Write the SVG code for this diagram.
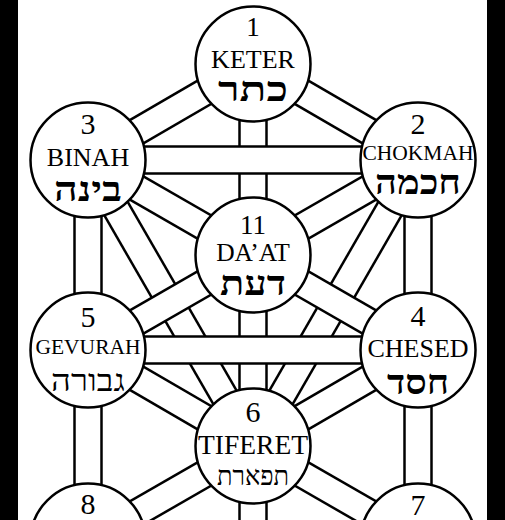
<svg xmlns="http://www.w3.org/2000/svg" width="505" height="520" viewBox="0 0 505 520">
<style>
.bo{stroke:#000;stroke-width:29.5;fill:none}
.bi{stroke:#fff;stroke-width:24.5;fill:none}
.c{fill:#fff;stroke:#000;stroke-width:2.5}
text{font-family:"Liberation Serif","DejaVu Serif",serif;fill:#000;text-anchor:middle}
.num{font-size:30px}
.lat{font-size:26px}
.heb{font-family:"Liberation Serif","DejaVu Sans",serif;font-size:34px;font-weight:bold}
</style>
<rect x="0" y="0" width="505" height="520" fill="#fff"/>
<g id="connectors">
<path class="bo" d="M253,64V446"/><path class="bi" d="M253,64V446"/>
<path class="bo" d="M253,446V640"/><path class="bi" d="M253,446V640"/>
<path class="bo" d="M88,160L253,446"/><path class="bi" d="M88,160L253,446"/>
<path class="bo" d="M418,160L253,446"/><path class="bi" d="M418,160L253,446"/>
<path class="bo" d="M418,160L88,350"/><path class="bi" d="M418,160L88,350"/>
<path class="bo" d="M88,160L418,350"/><path class="bi" d="M88,160L418,350"/>
<path class="bo" d="M88,160H418"/><path class="bi" d="M88,160H418"/>
<path class="bo" d="M88,350H418"/><path class="bi" d="M88,350H418"/>
<path class="bo" d="M253,64L418,160"/><path class="bi" d="M253,64L418,160"/>
<path class="bo" d="M253,64L88,160"/><path class="bi" d="M253,64L88,160"/>
<path class="bo" d="M88,160V350"/><path class="bi" d="M88,160V350"/>
<path class="bo" d="M418,160V350"/><path class="bi" d="M418,160V350"/>
<path class="bo" d="M88,350L253,446"/><path class="bi" d="M88,350L253,446"/>
<path class="bo" d="M418,350L253,446"/><path class="bi" d="M418,350L253,446"/>
<path class="bo" d="M88,350V541"/><path class="bi" d="M88,350V541"/>
<path class="bo" d="M418,350V541"/><path class="bi" d="M418,350V541"/>
<path class="bo" d="M253,446L88,541"/><path class="bi" d="M253,446L88,541"/>
<path class="bo" d="M253,446L418,541"/><path class="bi" d="M253,446L418,541"/>
</g>
<g id="keter">
<circle class="c" cx="253" cy="64" r="57.5"/>
<text class="num" x="253" y="36" style="font-size:27px">1</text>
<text class="lat" x="253" y="68">KETER</text>
<text class="heb" x="253" y="101" textLength="70" lengthAdjust="spacingAndGlyphs">כתר</text>
</g>
<g id="binah">
<circle class="c" cx="88" cy="160" r="57.5"/>
<text class="num" x="88" y="134">3</text>
<text class="lat" x="88" y="166">BINAH</text>
<text class="heb" x="88" y="201" textLength="68" lengthAdjust="spacingAndGlyphs">בינה</text>
</g>
<g id="chokmah">
<circle class="c" cx="418" cy="160" r="57.5"/>
<text class="num" x="418" y="134">2</text>
<text class="lat" x="418" y="160" style="font-size:21.5px">CHOKMAH</text>
<text class="heb" x="418" y="194" textLength="86" lengthAdjust="spacingAndGlyphs">חכמה</text>
</g>
<g id="daat">
<circle class="c" cx="253" cy="255" r="57.5"/>
<text class="num" x="253" y="234" style="font-size:27px">11</text>
<text class="lat" x="253" y="261" style="font-size:25.5px">DA’AT</text>
<text class="heb" x="253" y="295" textLength="66" lengthAdjust="spacingAndGlyphs">דעת</text>
</g>
<g id="gevurah">
<circle class="c" cx="88" cy="350" r="57.5"/>
<text class="num" x="88" y="327">5</text>
<text class="lat" x="88" y="354" style="font-size:21.5px">GEVURAH</text>
<text class="heb" x="88" y="391" style="font-size:30px;font-weight:normal" textLength="74" lengthAdjust="spacingAndGlyphs">גבורה</text>
</g>
<g id="chesed">
<circle class="c" cx="418" cy="350" r="57.5"/>
<text class="num" x="418" y="326">4</text>
<text class="lat" x="418" y="357">CHESED</text>
<text class="heb" x="418" y="394" textLength="62" lengthAdjust="spacingAndGlyphs">חסד</text>
</g>
<g id="tiferet">
<circle class="c" cx="253" cy="446" r="57.5"/>
<text class="num" x="253" y="422">6</text>
<text class="lat" x="253" y="454" style="font-size:27.5px">TIFERET</text>
<text class="heb" x="253" y="485" style="font-size:27px;font-weight:normal" textLength="72" lengthAdjust="spacingAndGlyphs">תפארת</text>
</g>
<g id="hod">
<circle class="c" cx="88" cy="541" r="57.5"/>
<text class="num" x="88" y="514">8</text>
</g>
<g id="netzach">
<circle class="c" cx="418" cy="541" r="57.5"/>
<text class="num" x="418" y="515">7</text>
</g>
<rect x="0" y="0" width="18" height="520" fill="#000"/>
<rect x="487" y="0" width="18" height="520" fill="#000"/>
</svg>
